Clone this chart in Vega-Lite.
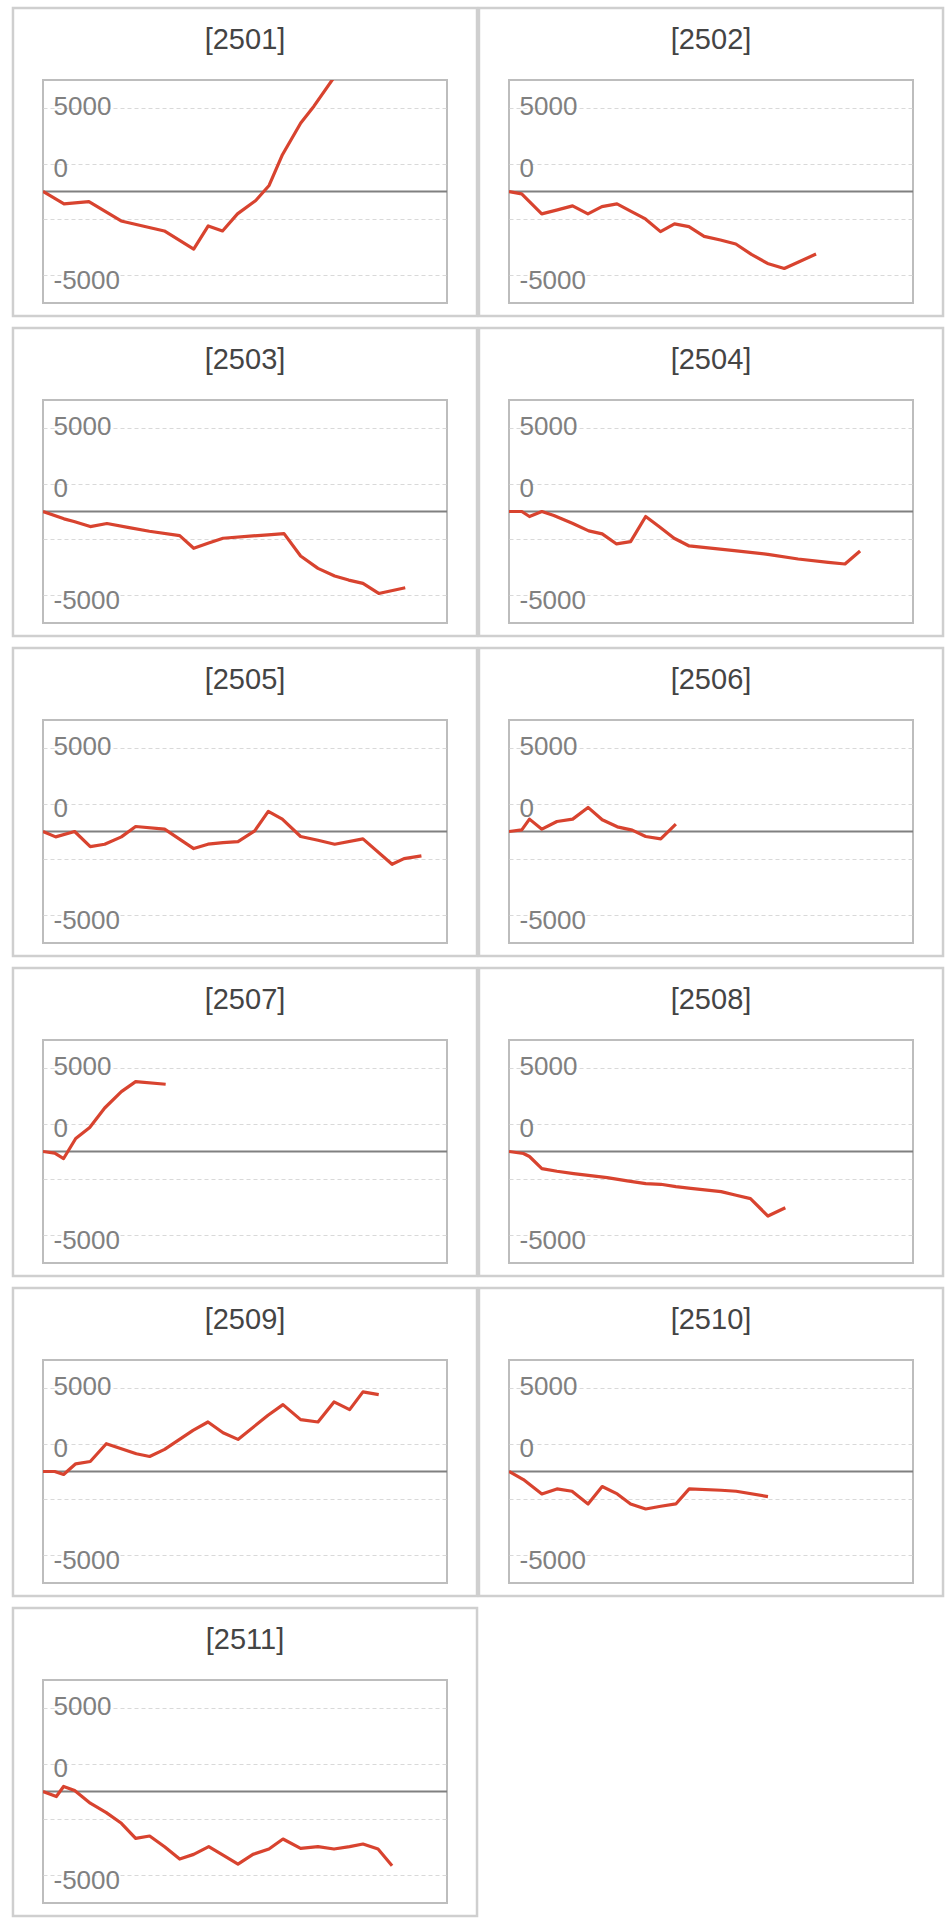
{
  "$schema": "https://vega.github.io/schema/vega-lite/v6.json",
  "padding": {"left": 10, "top": 4, "right": 0, "bottom": 0},
  "data": {
    "values": [
      {"m": "[2501]", "d": 0, "v": 0}, {"m": "[2501]", "d": 1.56, "v": -740}, {"m": "[2501]", "d": 3.41, "v": -600},
      {"m": "[2501]", "d": 5.8, "v": -1760}, {"m": "[2501]", "d": 9.01, "v": -2360}, {"m": "[2501]", "d": 11.19, "v": -3440},
      {"m": "[2501]", "d": 12.27, "v": -2060}, {"m": "[2501]", "d": 13.33, "v": -2360}, {"m": "[2501]", "d": 14.44, "v": -1340},
      {"m": "[2501]", "d": 15.8, "v": -540}, {"m": "[2501]", "d": 16.79, "v": 360}, {"m": "[2501]", "d": 17.78, "v": 2200},
      {"m": "[2501]", "d": 19.14, "v": 4100}, {"m": "[2501]", "d": 20.12, "v": 5100}, {"m": "[2501]", "d": 21.85, "v": 7100},

      {"m": "[2502]", "d": 0, "v": 0}, {"m": "[2502]", "d": 0.94, "v": -140}, {"m": "[2502]", "d": 2.43, "v": -1340},
      {"m": "[2502]", "d": 3.6, "v": -1100}, {"m": "[2502]", "d": 4.72, "v": -860}, {"m": "[2502]", "d": 5.86, "v": -1340},
      {"m": "[2502]", "d": 6.9, "v": -900}, {"m": "[2502]", "d": 8.02, "v": -740}, {"m": "[2502]", "d": 9.1, "v": -1200},
      {"m": "[2502]", "d": 10.13, "v": -1640}, {"m": "[2502]", "d": 11.25, "v": -2400}, {"m": "[2502]", "d": 12.29, "v": -1940},
      {"m": "[2502]", "d": 13.36, "v": -2100}, {"m": "[2502]", "d": 14.49, "v": -2680}, {"m": "[2502]", "d": 15.7, "v": -2900},
      {"m": "[2502]", "d": 16.84, "v": -3140}, {"m": "[2502]", "d": 18.0, "v": -3760}, {"m": "[2502]", "d": 19.2, "v": -4300},
      {"m": "[2502]", "d": 20.44, "v": -4600}, {"m": "[2502]", "d": 22.8, "v": -3740},

      {"m": "[2503]", "d": 0, "v": 0}, {"m": "[2503]", "d": 1.56, "v": -440}, {"m": "[2503]", "d": 2.3, "v": -600},
      {"m": "[2503]", "d": 3.51, "v": -900}, {"m": "[2503]", "d": 4.75, "v": -720}, {"m": "[2503]", "d": 6.4, "v": -960},
      {"m": "[2503]", "d": 7.9, "v": -1180}, {"m": "[2503]", "d": 10.15, "v": -1440}, {"m": "[2503]", "d": 11.19, "v": -2200},
      {"m": "[2503]", "d": 12.25, "v": -1900}, {"m": "[2503]", "d": 13.37, "v": -1600}, {"m": "[2503]", "d": 15.59, "v": -1460},
      {"m": "[2503]", "d": 16.71, "v": -1400}, {"m": "[2503]", "d": 17.9, "v": -1320}, {"m": "[2503]", "d": 19.13, "v": -2660},
      {"m": "[2503]", "d": 20.42, "v": -3400}, {"m": "[2503]", "d": 21.66, "v": -3860}, {"m": "[2503]", "d": 22.7, "v": -4100},
      {"m": "[2503]", "d": 23.76, "v": -4300}, {"m": "[2503]", "d": 24.93, "v": -4900}, {"m": "[2503]", "d": 26.9, "v": -4560},

      {"m": "[2504]", "d": 0, "v": 0}, {"m": "[2504]", "d": 0.95, "v": 0}, {"m": "[2504]", "d": 1.52, "v": -300},
      {"m": "[2504]", "d": 2.44, "v": 0}, {"m": "[2504]", "d": 3.33, "v": -240}, {"m": "[2504]", "d": 4.7, "v": -700},
      {"m": "[2504]", "d": 5.92, "v": -1160}, {"m": "[2504]", "d": 6.92, "v": -1340}, {"m": "[2504]", "d": 7.99, "v": -1940},
      {"m": "[2504]", "d": 9.03, "v": -1800}, {"m": "[2504]", "d": 10.15, "v": -300}, {"m": "[2504]", "d": 11.14, "v": -900},
      {"m": "[2504]", "d": 12.26, "v": -1600}, {"m": "[2504]", "d": 13.38, "v": -2060}, {"m": "[2504]", "d": 16.73, "v": -2340},
      {"m": "[2504]", "d": 19.22, "v": -2560}, {"m": "[2504]", "d": 21.47, "v": -2840}, {"m": "[2504]", "d": 23.71, "v": -3040},
      {"m": "[2504]", "d": 24.95, "v": -3140}, {"m": "[2504]", "d": 26.07, "v": -2360},

      {"m": "[2505]", "d": 0, "v": 0}, {"m": "[2505]", "d": 0.94, "v": -320}, {"m": "[2505]", "d": 2.35, "v": 0},
      {"m": "[2505]", "d": 3.51, "v": -900}, {"m": "[2505]", "d": 4.58, "v": -760}, {"m": "[2505]", "d": 5.82, "v": -320},
      {"m": "[2505]", "d": 6.88, "v": 300}, {"m": "[2505]", "d": 9.03, "v": 140}, {"m": "[2505]", "d": 11.19, "v": -1020},
      {"m": "[2505]", "d": 12.25, "v": -760}, {"m": "[2505]", "d": 13.37, "v": -660}, {"m": "[2505]", "d": 14.48, "v": -600},
      {"m": "[2505]", "d": 15.72, "v": 40}, {"m": "[2505]", "d": 16.73, "v": 1200}, {"m": "[2505]", "d": 17.77, "v": 740},
      {"m": "[2505]", "d": 19.13, "v": -300}, {"m": "[2505]", "d": 20.42, "v": -520}, {"m": "[2505]", "d": 21.66, "v": -760},
      {"m": "[2505]", "d": 23.76, "v": -440}, {"m": "[2505]", "d": 25.92, "v": -1960}, {"m": "[2505]", "d": 26.81, "v": -1620},
      {"m": "[2505]", "d": 28.1, "v": -1460},

      {"m": "[2506]", "d": 0, "v": 0}, {"m": "[2506]", "d": 0.95, "v": 100}, {"m": "[2506]", "d": 1.52, "v": 740},
      {"m": "[2506]", "d": 2.44, "v": 140}, {"m": "[2506]", "d": 3.56, "v": 600}, {"m": "[2506]", "d": 4.73, "v": 740},
      {"m": "[2506]", "d": 5.87, "v": 1440}, {"m": "[2506]", "d": 6.92, "v": 700}, {"m": "[2506]", "d": 8.04, "v": 280},
      {"m": "[2506]", "d": 9.15, "v": 80}, {"m": "[2506]", "d": 10.15, "v": -300}, {"m": "[2506]", "d": 11.27, "v": -440},
      {"m": "[2506]", "d": 12.39, "v": 440},

      {"m": "[2507]", "d": 0, "v": 0}, {"m": "[2507]", "d": 0.87, "v": -100}, {"m": "[2507]", "d": 1.53, "v": -420},
      {"m": "[2507]", "d": 2.43, "v": 780}, {"m": "[2507]", "d": 3.47, "v": 1440}, {"m": "[2507]", "d": 4.58, "v": 2600},
      {"m": "[2507]", "d": 5.82, "v": 3580}, {"m": "[2507]", "d": 6.88, "v": 4180}, {"m": "[2507]", "d": 9.11, "v": 4020},

      {"m": "[2508]", "d": 0, "v": 0}, {"m": "[2508]", "d": 1.07, "v": -120}, {"m": "[2508]", "d": 1.52, "v": -300},
      {"m": "[2508]", "d": 2.44, "v": -1020}, {"m": "[2508]", "d": 3.56, "v": -1180}, {"m": "[2508]", "d": 4.8, "v": -1320},
      {"m": "[2508]", "d": 7.29, "v": -1560}, {"m": "[2508]", "d": 8.78, "v": -1760}, {"m": "[2508]", "d": 10.15, "v": -1920},
      {"m": "[2508]", "d": 11.27, "v": -1960}, {"m": "[2508]", "d": 12.39, "v": -2100}, {"m": "[2508]", "d": 13.5, "v": -2200},
      {"m": "[2508]", "d": 15.75, "v": -2400}, {"m": "[2508]", "d": 16.87, "v": -2620}, {"m": "[2508]", "d": 17.93, "v": -2820},
      {"m": "[2508]", "d": 19.23, "v": -3860}, {"m": "[2508]", "d": 20.52, "v": -3360},

      {"m": "[2509]", "d": 0, "v": 0}, {"m": "[2509]", "d": 0.87, "v": 0}, {"m": "[2509]", "d": 1.53, "v": -180},
      {"m": "[2509]", "d": 2.43, "v": 460}, {"m": "[2509]", "d": 3.51, "v": 600}, {"m": "[2509]", "d": 4.7, "v": 1660},
      {"m": "[2509]", "d": 6.93, "v": 1060}, {"m": "[2509]", "d": 7.92, "v": 900}, {"m": "[2509]", "d": 9.03, "v": 1320},
      {"m": "[2509]", "d": 11.14, "v": 2460}, {"m": "[2509]", "d": 12.25, "v": 2960}, {"m": "[2509]", "d": 13.37, "v": 2320},
      {"m": "[2509]", "d": 14.48, "v": 1920}, {"m": "[2509]", "d": 16.71, "v": 3360}, {"m": "[2509]", "d": 17.82, "v": 4000},
      {"m": "[2509]", "d": 19.13, "v": 3100}, {"m": "[2509]", "d": 20.42, "v": 2960}, {"m": "[2509]", "d": 21.61, "v": 4160},
      {"m": "[2509]", "d": 22.77, "v": 3700}, {"m": "[2509]", "d": 23.76, "v": 4760}, {"m": "[2509]", "d": 24.93, "v": 4600},

      {"m": "[2510]", "d": 0, "v": 0}, {"m": "[2510]", "d": 1.07, "v": -480}, {"m": "[2510]", "d": 2.44, "v": -1340},
      {"m": "[2510]", "d": 3.56, "v": -1040}, {"m": "[2510]", "d": 4.68, "v": -1180}, {"m": "[2510]", "d": 5.87, "v": -1940},
      {"m": "[2510]", "d": 6.92, "v": -900}, {"m": "[2510]", "d": 8.04, "v": -1340}, {"m": "[2510]", "d": 9.03, "v": -1940},
      {"m": "[2510]", "d": 10.15, "v": -2240}, {"m": "[2510]", "d": 11.27, "v": -2080}, {"m": "[2510]", "d": 12.39, "v": -1940},
      {"m": "[2510]", "d": 13.38, "v": -1040}, {"m": "[2510]", "d": 15.75, "v": -1120}, {"m": "[2510]", "d": 16.87, "v": -1180},
      {"m": "[2510]", "d": 19.23, "v": -1500},

      {"m": "[2511]", "d": 0, "v": 0}, {"m": "[2511]", "d": 0.99, "v": -300}, {"m": "[2511]", "d": 1.53, "v": 300},
      {"m": "[2511]", "d": 2.35, "v": 60}, {"m": "[2511]", "d": 3.51, "v": -700}, {"m": "[2511]", "d": 4.7, "v": -1260},
      {"m": "[2511]", "d": 5.82, "v": -1900}, {"m": "[2511]", "d": 6.88, "v": -2800}, {"m": "[2511]", "d": 7.92, "v": -2660},
      {"m": "[2511]", "d": 9.03, "v": -3300}, {"m": "[2511]", "d": 10.15, "v": -4040}, {"m": "[2511]", "d": 11.19, "v": -3760},
      {"m": "[2511]", "d": 12.31, "v": -3300}, {"m": "[2511]", "d": 13.37, "v": -3800}, {"m": "[2511]", "d": 14.48, "v": -4340},
      {"m": "[2511]", "d": 15.59, "v": -3760}, {"m": "[2511]", "d": 16.78, "v": -3440}, {"m": "[2511]", "d": 17.82, "v": -2840},
      {"m": "[2511]", "d": 19.13, "v": -3400}, {"m": "[2511]", "d": 20.42, "v": -3300}, {"m": "[2511]", "d": 21.61, "v": -3440},
      {"m": "[2511]", "d": 22.77, "v": -3300}, {"m": "[2511]", "d": 23.76, "v": -3140}, {"m": "[2511]", "d": 24.88, "v": -3440},
      {"m": "[2511]", "d": 25.92, "v": -4440}
    ]
  },
  "facet": {
    "field": "m",
    "type": "nominal",
    "header": {"labels": false, "title": null, "labelFontSize": 1, "labelColor": "transparent", "labelPadding": 0}
  },
  "columns": 2,
  "spacing": {"column": 62, "row": 97},
  "bounds": "flush",
  "resolve": {"axis": {"x": "independent", "y": "independent"}},
  "spec": {
    "width": 404,
    "height": 223,
    "layer": [
      {
        "transform": [{"aggregate": [{"op": "count", "as": "n"}], "groupby": ["m"]}],
        "mark": {"type": "rect", "clip": false, "filled": false, "stroke": "#cfcfcf", "strokeWidth": 2.5},
        "encoding": {
          "x": {"datum": -2.23, "type": "quantitative", "axis": null},
          "x2": {"datum": 32.23},
          "y": {"datum": 10971, "type": "quantitative"},
          "y2": {"datum": -7444}
        }
      },
      {
        "transform": [{"aggregate": [{"op": "count", "as": "n"}], "groupby": ["m"]}],
        "mark": {"type": "text", "clip": false, "font": "Liberation Sans", "fontSize": 29, "color": "#444444", "align": "center", "baseline": "alphabetic"},
        "encoding": {
          "x": {"datum": 15, "type": "quantitative", "axis": null},
          "y": {"datum": 8520, "type": "quantitative"},
          "text": {"field": "m"}
        }
      },
      {
        "transform": [{"aggregate": [{"op": "count", "as": "n"}], "groupby": ["m"]}],
        "mark": {"type": "rule", "color": "#808080", "strokeWidth": 2},
        "encoding": {
          "y": {"datum": 0, "type": "quantitative"}
        }
      },
      {
        "mark": {"type": "line", "color": "#d8432f", "strokeWidth": 3.2, "clip": true, "strokeJoin": "round"},
        "encoding": {
          "x": {"field": "d", "type": "quantitative", "scale": {"domain": [0, 30], "nice": false, "zero": false}, "axis": null},
          "y": {
            "field": "v",
            "type": "quantitative",
            "scale": {"domain": [-6666.67, 6666.67], "nice": false, "zero": false},
            "axis": {
              "title": null,
              "values": [5000, 3333.33, 1666.67, 0, -1666.67, -3333.33, -5000],
              "grid": true,
              "gridColor": "#d9d9d9",
              "gridDash": [4, 3],
              "gridWidth": 1,
              "domain": false,
              "ticks": false,
              "tickSize": 0,
              "labelExpr": "datum.value == 5000 ? '5000' : datum.value == -5000 ? '-5000' : datum.value == 1666.67 ? '0' : ''",
              "labelAlign": "left",
              "labelPadding": -10,
              "labelBaseline": "alphabetic",
              "labelOffset": {"condition": {"test": "datum.value > 4000", "value": 6.5}, "value": 13},
              "labelFont": "Liberation Sans",
              "labelFontSize": 26,
              "labelColor": "#808080",
              "labelOverlap": false
            }
          }
        }
      }
    ]
  },
  "config": {
    "view": {"stroke": "#bdbdbd", "strokeWidth": 2},
    "font": "Liberation Sans",
    "header": {"labels": false, "title": null, "labelFontSize": 1, "labelColor": "transparent", "labelPadding": 0},
    "headerFacet": {"labels": false, "title": null, "labelFontSize": 1, "labelColor": "transparent", "labelPadding": 0}
  }
}
